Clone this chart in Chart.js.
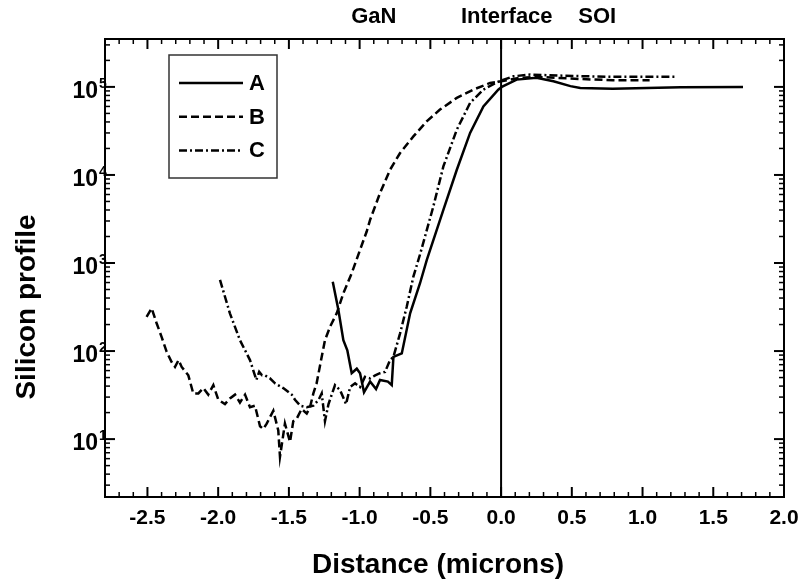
<!DOCTYPE html>
<html>
<head>
<title>Silicon profile</title>
<script src="https://cdn.jsdelivr.net/npm/chart.js"></script>
<style>
    body { margin: 0; background: #fff; }
    #wrap { width: 800px; height: 581px; }
</style>
</head>
<body>
<div id="wrap"><canvas id="chart" width="800" height="581"></canvas></div>
<script>
// values: distance (microns) and silicon counts
const seriesNames = ["A", "B", "C"];

const xA = [-1.19, -1.15, -1.115, -1.087, -1.056, -1.02, -0.997, -0.969, -0.926, -0.884, -0.856, -0.80, -0.773, -0.761,
    -0.702, -0.643, -0.573, -0.525, -0.408, -0.313, -0.219, -0.125, -0.02, 0.005, 0.11, 0.25, 0.37, 0.49, 0.56, 0.79,
    1.03, 1.27, 1.71];
const yA = [614, 292, 133, 102, 56, 63, 56, 34, 45, 37, 47, 45, 41, 86,
    94, 268, 589, 1084, 4018, 11450, 30000, 60100, 93100, 100000, 121000, 127000, 116000, 102000, 97000, 95000,
    97000, 99000, 100000];

const xB = [-2.506, -2.47, -2.435, -2.40, -2.364, -2.329, -2.305, -2.28, -2.258, -2.211, -2.176, -2.14, -2.105, -2.07,
    -2.034, -1.999, -1.952, -1.917, -1.881, -1.846, -1.81, -1.775, -1.74, -1.704, -1.681, -1.657, -1.61, -1.575,
    -1.563, -1.528, -1.492, -1.469, -1.445, -1.41, -1.374, -1.351, -1.327, -1.304, -1.268, -1.245, -1.209, -1.162,
    -1.115, -1.056, -0.997, -0.95, -0.926, -0.856, -0.785, -0.714, -0.62, -0.526, -0.432, -0.313, -0.196, -0.078,
    0, 0.134, 0.25, 0.56, 0.79, 1.05];
const yB = [245, 306, 207, 145, 98, 75, 66, 79, 66, 53, 33, 33, 38, 32,
    41, 28, 25, 29, 32, 26, 32, 23, 24, 14, 13, 15, 21, 12.5,
    6.3, 15, 9.3, 16, 17, 22, 19.5, 23, 33, 43, 86, 133, 189, 268,
    453, 765, 1410, 2280, 3090, 6220, 11450, 17750, 27400, 40600, 55300, 75000, 93100, 111000,
    116000, 127000, 130000, 123000, 119000, 119000];

const xC = [-1.987, -1.917, -1.846, -1.775, -1.73, -1.71, -1.69, -1.669, -1.634, -1.598, -1.54, -1.48, -1.457, -1.42,
    -1.374, -1.327, -1.29, -1.268, -1.245, -1.22, -1.174, -1.138, -1.096, -1.067, -1.032, -0.997, -0.962, -0.926,
    -0.89, -0.856, -0.82, -0.785, -0.761, -0.714, -0.667, -0.62, -0.573, -0.479, -0.408, -0.313, -0.219, -0.125,
    -0.03, 0.087, 0.205, 0.44, 0.79, 1.24];
const yC = [643, 268, 133, 79, 47, 58, 53, 53, 49, 43, 38, 32, 28, 24,
    23, 24, 28, 33, 16, 25, 41, 36, 25, 39, 43, 39, 51, 49,
    53, 56, 58, 79, 86, 159, 319, 700, 1250, 4380, 12500, 32700, 65800, 93100,
    113000, 132000, 138000, 134000, 130000, 130000];

const yDecades = [1, 2, 3, 4, 5];
const regionLabels = ["GaN", "Interface", "SOI"];
const regionAt = [-0.9, 0.04, 0.68];

const FONT = '"Liberation Sans", Arial, sans-serif';

function pts(xs, ys) {
    return xs.map((x, i) => ({ x: x, y: ys[i] }));
}

function line(ctx, x1, y1, x2, y2) {
    ctx.beginPath();
    ctx.moveTo(x1, y1);
    ctx.lineTo(x2, y2);
    ctx.stroke();
}

// frame, inward ticks, interface line, y labels, legend and titles
const decorations = {
    id: "decorations",
    afterDatasetsDraw(chart) {
        const ctx = chart.ctx;
        const a = chart.chartArea;
        const x = chart.scales.x;
        const y = chart.scales.y;
        ctx.save();
        ctx.strokeStyle = "#000";
        ctx.fillStyle = "#000";

        ctx.lineWidth = 2;
        const x0 = x.getPixelForValue(0);
        line(ctx, x0, a.top, x0, a.bottom);
        ctx.strokeRect(a.left, a.top, a.right - a.left, a.bottom - a.top);

        for (let i = -28; i <= 20; i++) {
            const px = x.getPixelForValue(i / 10);
            const major = i % 5 === 0;
            const len = major ? 10 : 5;
            ctx.lineWidth = major ? 2 : 1.5;
            line(ctx, px, a.bottom, px, a.bottom - len);
            line(ctx, px, a.top, px, a.top + len);
        }
        for (let e = 0; e <= 5; e++) {
            for (let k = 1; k <= 9; k++) {
                const v = k * Math.pow(10, e);
                if (v < y.min || v > y.max) continue;
                const py = y.getPixelForValue(v);
                const len = k === 1 ? 10 : 5;
                ctx.lineWidth = k === 1 ? 2 : 1.5;
                line(ctx, a.left, py, a.left + len, py);
                line(ctx, a.right, py, a.right - len, py);
            }
        }

        // y tick labels as 10^n
        yDecades.forEach(e => {
            const py = y.getPixelForValue(Math.pow(10, e));
            ctx.font = "bold 23px " + FONT;
            ctx.textAlign = "right";
            ctx.textBaseline = "alphabetic";
            ctx.fillText("10", a.left - 7, py + 11);
            ctx.font = "bold 14px " + FONT;
            ctx.textAlign = "left";
            ctx.fillText(String(e), a.left - 6, py + 1);
        });

        // labels above the plot
        ctx.font = "bold 22px " + FONT;
        ctx.textAlign = "center";
        regionLabels.forEach((t, i) => {
            ctx.fillText(t, x.getPixelForValue(regionAt[i]), 23);
        });

        // axis titles
        ctx.font = "bold 28px " + FONT;
        ctx.fillText("Distance (microns)", 438, 573);
        ctx.save();
        ctx.translate(35, 307);
        ctx.rotate(-Math.PI / 2);
        ctx.fillText("Silicon profile", 0, 0);
        ctx.restore();

        // legend box
        ctx.fillStyle = "#fff";
        ctx.fillRect(169, 55, 108, 123);
        ctx.lineWidth = 1.5;
        ctx.strokeStyle = "#333";
        ctx.strokeRect(169, 55, 108, 123);
        ctx.fillStyle = "#000";
        ctx.font = "bold 22px " + FONT;
        ctx.textAlign = "left";
        ctx.textBaseline = "middle";
        chart.data.datasets.forEach((ds, i) => {
            const ly = 83 + i * 33.7;
            ctx.strokeStyle = ds.borderColor;
            ctx.lineWidth = ds.borderWidth;
            ctx.setLineDash(ds.borderDash || []);
            line(ctx, 179, ly, 243, ly);
            ctx.setLineDash([]);
            ctx.fillText(ds.label, 249, ly + 1);
        });
        ctx.restore();
    }
};

const ctx = document.getElementById("chart").getContext("2d");
new Chart(ctx, {
    type: "line",
    data: {
        datasets: [
            { label: seriesNames[0], data: pts(xA, yA), borderColor: "#000", borderWidth: 2.5, borderDash: [] },
            { label: seriesNames[1], data: pts(xB, yB), borderColor: "#000", borderWidth: 2.5, borderDash: [8, 4] },
            { label: seriesNames[2], data: pts(xC, yC), borderColor: "#000", borderWidth: 2.5, borderDash: [8, 3, 2, 3] }
        ]
    },
    options: {
        responsive: false,
        animation: false,
        elements: { point: { radius: 0 }, line: { tension: 0 } },
        layout: { padding: { top: 39, right: 16, left: 0, bottom: 0 } },
        plugins: { legend: { display: false }, tooltip: { enabled: false } },
        scales: {
            x: {
                type: "linear",
                min: -2.8,
                max: 2.0,
                grid: { display: false, drawTicks: false },
                border: { display: true, color: "#000", width: 2 },
                ticks: {
                    stepSize: 0.1,
                    autoSkip: false,
                    maxRotation: 0,
                    padding: 9,
                    color: "#000",
                    font: { family: FONT, size: 21, weight: "bold" },
                    callback: v => Math.abs(v * 2 - Math.round(v * 2)) < 1e-6 ? v.toFixed(1) : ""
                },
                afterFit: s => { s.height = 84; s.paddingLeft = 0; s.paddingRight = 0; }
            },
            y: {
                type: "logarithmic",
                min: 2.2,
                max: 350000,
                grid: { display: false, drawTicks: false },
                border: { display: true, color: "#000", width: 2 },
                ticks: { display: false },
                afterFit: s => { s.width = 105; }
            }
        }
    },
    plugins: [decorations]
});
</script>
</body>
</html>
